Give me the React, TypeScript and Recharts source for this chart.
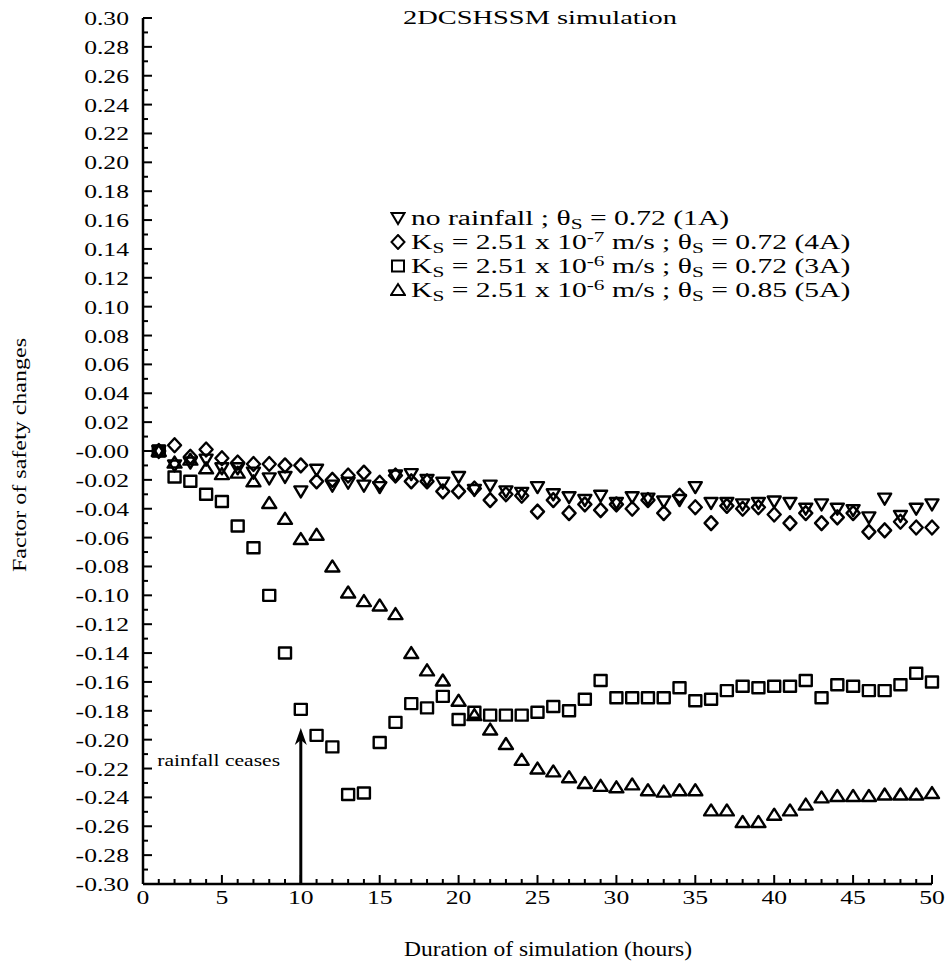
import React from "react";
import {
  ScatterChart,
  Scatter,
  XAxis,
  YAxis,
  ReferenceLine,
  ReferenceDot,
  Legend,
} from "recharts";

// hours of simulation (one reading per hour)
const hours = [
  1, 2, 3, 4, 5, 6, 7, 8, 9, 10, 11, 12, 13, 14, 15, 16, 17, 18, 19, 20, 21, 22, 23, 24, 25,
  26, 27, 28, 29, 30, 31, 32, 33, 34, 35, 36, 37, 38, 39, 40, 41, 42, 43, 44, 45, 46, 47, 48, 49, 50,
];

// no rainfall ; θs = 0.72 (1A)
const noRain1A = [
  0, -0.01, -0.008, -0.006, -0.012, -0.012, -0.015, -0.019, -0.018, -0.028,
  -0.013, -0.024, -0.022, -0.024, -0.025, -0.017, -0.016, -0.02, -0.022, -0.018,
  -0.027, -0.024, -0.028, -0.029, -0.025, -0.03, -0.032, -0.034, -0.031, -0.036,
  -0.032, -0.033, -0.035, -0.034, -0.025, -0.036, -0.036, -0.037, -0.036, -0.035,
  -0.036, -0.04, -0.037, -0.04, -0.041, -0.046, -0.033, -0.045, -0.04, -0.037,
];

// Ks = 2.51e-7 ; θs = 0.72 (4A)
const ks7Theta72 = [
  0, 0.004, -0.004, 0.001, -0.005, -0.008, -0.009, -0.009, -0.01, -0.01,
  -0.021, -0.02, -0.017, -0.015, -0.022, -0.017, -0.021, -0.021, -0.028, -0.028,
  -0.026, -0.034, -0.03, -0.031, -0.042, -0.034, -0.043, -0.037, -0.041, -0.037,
  -0.04, -0.034, -0.043, -0.031, -0.039, -0.05, -0.038, -0.04, -0.039, -0.044,
  -0.05, -0.043, -0.05, -0.046, -0.043, -0.056, -0.055, -0.049, -0.053, -0.053,
];

// Ks = 2.51e-6 ; θs = 0.72 (3A)
const ks6Theta72 = [
  0, -0.018, -0.021, -0.03, -0.035, -0.052, -0.067, -0.1, -0.14, -0.179,
  -0.197, -0.205, -0.238, -0.237, -0.202, -0.188, -0.175, -0.178, -0.17, -0.186,
  -0.181, -0.183, -0.183, -0.183, -0.181, -0.177, -0.18, -0.172, -0.159, -0.171,
  -0.171, -0.171, -0.171, -0.164, -0.173, -0.172, -0.166, -0.163, -0.164, -0.163,
  -0.163, -0.159, -0.171, -0.162, -0.163, -0.166, -0.166, -0.162, -0.154, -0.16,
];

// Ks = 2.51e-6 ; θs = 0.85 (5A)
const ks6Theta85 = [
  0, -0.008, -0.006, -0.012, -0.016, -0.015, -0.021, -0.036, -0.047, -0.061,
  -0.058, -0.08, -0.098, -0.104, -0.107, -0.113, -0.14, -0.152, -0.159, -0.173,
  -0.183, -0.193, -0.203, -0.214, -0.22, -0.222, -0.226, -0.23, -0.232, -0.233,
  -0.231, -0.235, -0.236, -0.235, -0.235, -0.249, -0.249, -0.257, -0.257, -0.252,
  -0.249, -0.245, -0.24, -0.239, -0.239, -0.239, -0.238, -0.238, -0.238, -0.237,
];

const xLabelTicks = [0, 5, 10, 15, 20, 25, 30, 35, 40, 45, 50];
const yLabelTicks = [
  0.3, 0.28, 0.26, 0.24, 0.22, 0.2, 0.18, 0.16, 0.14, 0.12, 0.1, 0.08, 0.06, 0.04, 0.02, 0,
  -0.02, -0.04, -0.06, -0.08, -0.1, -0.12, -0.14, -0.16, -0.18, -0.2, -0.22, -0.24, -0.26, -0.28, -0.3,
];

const rainStopsAt = 10;

const FONT = '"Liberation Serif", "Times New Roman", serif';
const STRETCH = 1.35;
const LEGEND_STRETCH = 1.48;

// minor ticks: every hour, every 0.01
const xTicks = Array.from({ length: 51 }, (_, i) => i);
const yTicks = Array.from({ length: 61 }, (_, i) => Math.round((0.3 - i * 0.01) * 100) / 100);

const toPoints = (vals: number[]) => hours.map((h, i) => ({ x: h, y: vals[i] }));

type Kind = "down" | "diamond" | "square" | "up";

function markerPath(kind: Kind, cx: number, cy: number) {
  switch (kind) {
    case "down":
      return `M${cx - 6.5},${cy - 5} L${cx + 6.5},${cy - 5} L${cx},${cy + 6} Z`;
    case "up":
      return `M${cx - 7},${cy + 5} L${cx + 7},${cy + 5} L${cx},${cy - 6} Z`;
    case "diamond":
      return `M${cx},${cy - 7} L${cx + 6.5},${cy} L${cx},${cy + 7} L${cx - 6.5},${cy} Z`;
    default:
      return `M${cx - 6},${cy - 5.5} L${cx + 6},${cy - 5.5} L${cx + 6},${cy + 5.5} L${cx - 6},${cy + 5.5} Z`;
  }
}

const makeShape = (kind: Kind) => (props: any) => {
  const { cx, cy } = props;
  if (cx == null || cy == null) return <g />;
  return <path d={markerPath(kind, cx, cy)} fill="none" stroke="#000" strokeWidth={2.4} strokeLinejoin="round" />;
};

function XTick(props: any) {
  const { x, y, payload } = props;
  const v = payload.value as number;
  const major = xLabelTicks.includes(v);
  return (
    <g>
      <line x1={x} x2={x} y1={y} y2={y - (major ? 9 : 5)} stroke="#000" strokeWidth={2} />
      {major && (
        <text
          transform={`translate(${x},${y + 20}) scale(${STRETCH},1)`}
          textAnchor="middle"
          fontFamily={FONT}
          fontSize={19}
          fill="#000"
        >
          {v}
        </text>
      )}
    </g>
  );
}

function YTick(props: any) {
  const { x, y, payload } = props;
  const v = payload.value as number;
  const major = yLabelTicks.some((t) => Math.abs(t - v) < 1e-6);
  const label = Math.abs(v) < 1e-6 ? "-0.00" : v.toFixed(2);
  return (
    <g>
      <line x1={x} x2={x + (major ? 9 : 5)} y1={y} y2={y} stroke="#000" strokeWidth={2} />
      {major && (
        <text
          transform={`translate(${x - 14},${y + 7}) scale(${STRETCH},1)`}
          textAnchor="end"
          fontFamily={FONT}
          fontSize={19}
          fill="#000"
        >
          {label}
        </text>
      )}
    </g>
  );
}

function LegendIcon({ kind }: { kind: Kind }) {
  return (
    <svg width={16} height={16} style={{ position: "absolute", left: 0, top: 4 }}>
      <path d={markerPath(kind, 8, 8)} fill="none" stroke="#000" strokeWidth={2} />
    </svg>
  );
}

const sub = { fontSize: "0.72em", verticalAlign: "-0.3em", lineHeight: 0 } as const;
const sup = { fontSize: "0.72em", verticalAlign: "0.5em", lineHeight: 0 } as const;

function Row({ kind, children }: { kind: Kind; children: React.ReactNode }) {
  return (
    <div style={{ position: "relative", height: 24, whiteSpace: "nowrap" }}>
      <LegendIcon kind={kind} />
      <span
        style={{
          position: "absolute",
          left: 21,
          top: 2,
          lineHeight: "20px",
          transform: `scaleX(${LEGEND_STRETCH})`,
          transformOrigin: "left center",
        }}
      >
        {children}
      </span>
    </div>
  );
}

function LegendBox() {
  return (
    <div style={{ fontFamily: FONT, fontSize: 20, color: "#000", width: 540 }}>
      <Row kind="down">
        no rainfall ; θ<span style={sub}>S</span> = 0.72 (1A)
      </Row>
      <Row kind="diamond">
        K<span style={sub}>S</span> = 2.51 x 10<span style={sup}>-7</span> m/s ; θ<span style={sub}>S</span> = 0.72 (4A)
      </Row>
      <Row kind="square">
        K<span style={sub}>S</span> = 2.51 x 10<span style={sup}>-6</span> m/s ; θ<span style={sub}>S</span> = 0.72 (3A)
      </Row>
      <Row kind="up">
        K<span style={sub}>S</span> = 2.51 x 10<span style={sup}>-6</span> m/s ; θ<span style={sub}>S</span> = 0.85 (5A)
      </Row>
    </div>
  );
}

export default function App() {
  return (
    <div style={{ position: "absolute", left: 0, top: 0, width: 945, height: 971, background: "#fff" }}>
      <ScatterChart width={945} height={971} margin={{ top: 18, right: 13, bottom: 0, left: 0 }}>
        <XAxis
          type="number"
          dataKey="x"
          domain={[0, 50]}
          ticks={xTicks}
          interval={0}
          tick={<XTick />}
          tickLine={false}
          tickSize={0}
          tickMargin={0}
          height={87}
          axisLine={{ stroke: "#000", strokeWidth: 2.5 }}
          label={() => (
            <text
              x={548}
              y={956}
              textAnchor="middle"
              fontFamily={FONT}
              fontSize={20}
              fill="#000"
              textLength={288}
              lengthAdjust="spacingAndGlyphs"
            >
              Duration of simulation (hours)
            </text>
          )}
        />
        <YAxis
          type="number"
          dataKey="y"
          domain={[-0.3, 0.3]}
          ticks={yTicks}
          interval={0}
          tick={<YTick />}
          tickLine={false}
          tickSize={0}
          tickMargin={0}
          width={143}
          axisLine={{ stroke: "#000", strokeWidth: 2.5 }}
          label={() => (
            <text
              x={26}
              y={455}
              transform="rotate(-90 26 455)"
              textAnchor="middle"
              fontFamily={FONT}
              fontSize={18}
              fill="#000"
              textLength={234}
              lengthAdjust="spacingAndGlyphs"
            >
              Factor of safety changes
            </text>
          )}
        />
        <Legend
          layout="vertical"
          align="center"
          verticalAlign="middle"
          content={() => <LegendBox />}
          wrapperStyle={{ left: 390, top: 206, width: 540 }}
        />
        <ReferenceLine
          segment={[
            { x: rainStopsAt, y: -0.3 },
            { x: rainStopsAt, y: -0.196 },
          ]}
          stroke="#000"
          strokeWidth={3}
        />
        <ReferenceDot
          x={rainStopsAt}
          y={-0.192}
          shape={(p: any) => (
            <path
              d={`M${p.cx},${p.cy} L${p.cx - 6},${p.cy + 17} L${p.cx},${p.cy + 12} L${p.cx + 6},${p.cy + 17} Z`}
              fill="#000"
            />
          )}
        />
        <ReferenceDot
          x={0.9}
          y={-0.218}
          shape={(p: any) => (
            <text
              transform={`translate(${p.cx},${p.cy}) scale(${STRETCH},1)`}
              fontFamily={FONT}
              fontSize={16}
              fill="#000"
            >
              rainfall ceases
            </text>
          )}
        />
        <Scatter name="1A" data={toPoints(noRain1A)} shape={makeShape("down")} isAnimationActive={false} />
        <Scatter name="4A" data={toPoints(ks7Theta72)} shape={makeShape("diamond")} isAnimationActive={false} />
        <Scatter name="3A" data={toPoints(ks6Theta72)} shape={makeShape("square")} isAnimationActive={false} />
        <Scatter name="5A" data={toPoints(ks6Theta85)} shape={makeShape("up")} isAnimationActive={false} />
      </ScatterChart>
      <svg width={945} height={40} style={{ position: "absolute", left: 0, top: 0, pointerEvents: "none" }}>
        <text
          x={540}
          y={24}
          textAnchor="middle"
          fontFamily={FONT}
          fontSize={18}
          fill="#000"
          textLength={274}
          lengthAdjust="spacingAndGlyphs"
        >
          2DCSHSSM simulation
        </text>
      </svg>
    </div>
  );
}
